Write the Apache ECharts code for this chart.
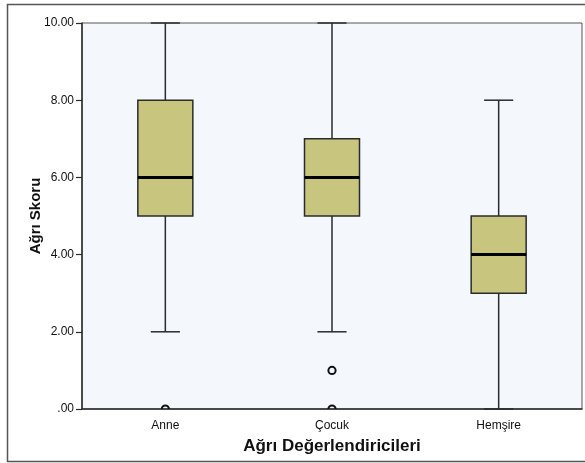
<!DOCTYPE html>
<html><head><meta charset="utf-8">
<script src="https://cdn.jsdelivr.net/npm/echarts@6/dist/echarts.min.js"></script>
<style>html,body{margin:0;padding:0;background:#fff}#c{width:585px;height:463px}</style>
</head><body><div id="c"></div>
<script>
var categories = ['Anne', 'Çocuk', 'Hemşire'];
var mins = [2, 2, 0];
var q1s = [5, 5, 3];
var medians = [6, 6, 4];
var q3s = [8, 7, 5];
var maxs = [10, 10, 8];
var outlierCats = [0, 1, 1];
var outlierVals = [0, 1, 0];
var yTicks = [0, 2, 4, 6, 8, 10];

var boxData = categories.map(function (c, i) { return [i, mins[i], q1s[i], medians[i], q3s[i], maxs[i]]; });
var outData = outlierCats.map(function (c, i) { return [c, outlierVals[i]]; });

var chart = echarts.init(document.getElementById('c'), null, {renderer: 'canvas'});
var font = 'Liberation Sans, Arial, sans-serif';
var dark = '#2b2b2b';

function renderBox(params, api) {
  var idx = api.value(0);
  var band = api.size([1, 0])[0];
  var bw = band * 0.33;
  var cw = bw * 0.53;
  var pMin = api.coord([idx, api.value(1)]);
  var pQ1 = api.coord([idx, api.value(2)]);
  var pMed = api.coord([idx, api.value(3)]);
  var pQ3 = api.coord([idx, api.value(4)]);
  var pMax = api.coord([idx, api.value(5)]);
  var x = pMed[0];
  var ls = {stroke: dark, lineWidth: 1.5};
  return {
    type: 'group',
    children: [
      {type: 'line', shape: {x1: x, y1: pMax[1], x2: x, y2: pQ3[1]}, style: ls},
      {type: 'line', shape: {x1: x, y1: pQ1[1], x2: x, y2: pMin[1]}, style: ls},
      {type: 'line', shape: {x1: x - cw / 2, y1: pMax[1], x2: x + cw / 2, y2: pMax[1]}, style: ls},
      {type: 'line', shape: {x1: x - cw / 2, y1: pMin[1], x2: x + cw / 2, y2: pMin[1]}, style: ls},
      {type: 'rect', shape: {x: x - bw / 2, y: pQ3[1], width: bw, height: pQ1[1] - pQ3[1]},
        style: {fill: '#c8c67e', stroke: dark, lineWidth: 1.5}},
      {type: 'line', shape: {x1: x - bw / 2, y1: pMed[1], x2: x + bw / 2, y2: pMed[1]},
        style: {stroke: '#000', lineWidth: 3}}
    ]
  };
}

function renderOut(params, api) {
  var p = api.coord([api.value(0), api.value(1)]);
  return {
    type: 'circle',
    shape: {cx: p[0], cy: p[1], r: 3.6},
    style: {fill: 'none', stroke: '#111', lineWidth: 2}
  };
}

chart.setOption({
  animation: false,
  backgroundColor: '#fff',
  graphic: [{
    type: 'rect', left: 5, top: 2, z: -10,
    shape: {width: 600, height: 457},
    style: {fill: 'none', stroke: '#555', lineWidth: 1.5}
  }],
  grid: {left: 82, right: 3, top: 23, bottom: 54, show: true,
    backgroundColor: '#f4f8fd', borderColor: '#555', borderWidth: 1},
  xAxis: {
    type: 'category', data: categories,
    name: 'Ağrı Değerlendiricileri', nameLocation: 'middle', nameGap: 29, nameMoveOverlap: false,
    nameTextStyle: {fontFamily: font, fontWeight: 'bold', fontSize: 17, color: '#111'},
    axisLine: {lineStyle: {color: dark, width: 1.5}},
    axisTick: {alignWithLabel: true, length: 5, lineStyle: {color: dark, width: 1.2}},
    axisLabel: {fontFamily: font, fontSize: 12, color: '#111', margin: 11},
    splitLine: {show: false}
  },
  yAxis: {
    type: 'value', min: 0, max: 10, interval: 2,
    name: 'Ağrı Skoru', nameLocation: 'middle', nameGap: 39, nameMoveOverlap: false,
    nameTextStyle: {fontFamily: font, fontWeight: 'bold', fontSize: 15, color: '#111'},
    axisLine: {show: true, lineStyle: {color: dark, width: 1.5}},
    axisTick: {show: true, length: 6, lineStyle: {color: dark, width: 1.2}},
    axisLabel: {fontFamily: font, fontSize: 12, color: '#111', margin: 8,
      padding: [3, 0, 0, 0],
      formatter: function (v) { return v === 0 ? '.00' : v.toFixed(2); }},
    splitLine: {show: false}
  },
  series: [
    {type: 'custom', renderItem: renderBox, data: boxData, encode: {x: 0, y: [1, 2, 3, 4, 5]}, z: 2},
    {type: 'custom', renderItem: renderOut, data: outData, encode: {x: 0, y: 1}, clip: true, z: 3}
  ]
});
</script></body></html>
